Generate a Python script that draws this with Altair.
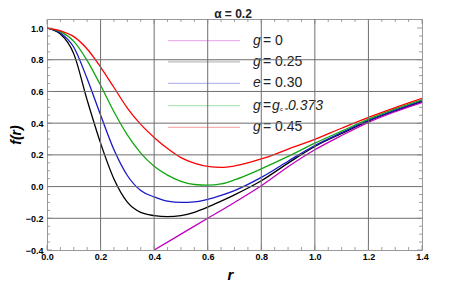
import altair as alt
import pandas as pd

# ---------------- data ----------------
r_vals = [0.0, 0.05, 0.1, 0.15, 0.2, 0.25, 0.3, 0.35, 0.4, 0.45, 0.5, 0.55, 0.6, 0.65, 0.7,
          0.8, 0.9, 1.0, 1.1, 1.2, 1.3, 1.4]
f_g045 = [1.0, 0.983, 0.946, 0.868, 0.754, 0.625, 0.495, 0.392, 0.31, 0.24, 0.183, 0.148, 0.127,
          0.121, 0.13, 0.174, 0.236, 0.298, 0.368, 0.436, 0.498, 0.556]
f_g0373 = [1.0, 0.977, 0.916, 0.795, 0.639, 0.472, 0.326, 0.211, 0.128, 0.072, 0.033, 0.013, 0.009,
           0.017, 0.042, 0.112, 0.19, 0.274, 0.35, 0.425, 0.49, 0.547]
f_e030 = [1.0, 0.969, 0.879, 0.68, 0.451, 0.232, 0.07, -0.025, -0.065, -0.092, -0.1, -0.096, -0.08,
          -0.055, -0.025, 0.058, 0.16, 0.259, 0.34, 0.417, 0.482, 0.541]
f_g025 = [1.0, 0.962, 0.837, 0.545, 0.274, 0.048, -0.098, -0.163, -0.183, -0.19, -0.183, -0.162,
          -0.13, -0.092, -0.052, 0.037, 0.148, 0.253, 0.335, 0.413, 0.478, 0.537]
r_g0 = [0.4, 0.5, 0.6, 0.7, 0.8, 0.9, 1.0, 1.1, 1.2, 1.3, 1.4]
f_g0 = [-0.4, -0.3, -0.2, -0.1, 0.005, 0.125, 0.232, 0.322, 0.405, 0.472, 0.53]

series = ["g0", "g025", "e030", "g0373", "g045"]
series_colors = ["#c000c0", "#000000", "#1818c8", "#10a810", "#ff0000"]

x_major = [0.0, 0.2, 0.4, 0.6, 0.8, 1.0, 1.2, 1.4]
y_major = [-0.4, -0.2, 0.0, 0.2, 0.4, 0.6, 0.8, 1.0]
x_grid = [0.2, 0.4, 0.6, 0.8, 1.0, 1.2]
y_grid = [-0.2, 0.0, 0.2, 0.4, 0.6, 0.8]
x_minor = [round(i * 0.05, 2) for i in range(29) if i % 4 != 0]
y_minor = [round(-0.4 + i * 0.05, 2) for i in range(29) if i % 4 != 0]

W, H = 375, 231
FONT = "Liberation Sans"

rows = []
for name, fv in zip(["g025", "e030", "g0373", "g045"], [f_g025, f_e030, f_g0373, f_g045]):
    for r, f in zip(r_vals, fv):
        rows.append({"r": r, "f": f, "s": name})
for r, f in zip(r_g0, f_g0):
    rows.append({"r": r, "f": f, "s": "g0"})
df = pd.DataFrame(rows)

xs = alt.Scale(domain=[0, 1.4], nice=False, zero=False)
ys = alt.Scale(domain=[-0.4, 1.057], nice=False, zero=False)

AX = alt.Axis(
    values=x_major, format=".1f", grid=False, ticks=False, domain=False,
    labelFont=FONT, labelFontWeight="bold", labelFontSize=9, labelColor="#000",
    labelPadding=2, labelFlush=False, labelOverlap=False,
    title="r", titleFont=FONT, titleFontStyle="italic", titleFontWeight="bold",
    titleFontSize=15, titlePadding=6, titleX=183, titleColor="#000")
AY = alt.Axis(
    values=y_major, format=".1f", grid=False, ticks=False, domain=False,
    labelFont=FONT, labelFontWeight="bold", labelFontSize=9, labelColor="#000",
    labelPadding=4, labelOverlap=False,
    title="f(r)", titleFont=FONT, titleFontStyle="italic", titleFontWeight="bold",
    titleFontSize=14, titlePadding=2, titleColor="#000")


def X(field="r"):
    return alt.X(f"{field}:Q", scale=xs, axis=AX, title="r")


def Y(field="f"):
    return alt.Y(f"{field}:Q", scale=ys, axis=AY, title="f(r)")


curves = alt.Chart(df).mark_line(strokeWidth=1.3, interpolate="monotone", clip=True).encode(
    x=X(), y=Y(),
    color=alt.Color("s:N", scale=alt.Scale(domain=series, range=series_colors), legend=None),
    order=alt.Order("r:Q"),
)

grid_col = "#6e6e6e"
vgrid = alt.Chart(pd.DataFrame({"r": x_grid})).mark_rule(color=grid_col, strokeWidth=1).encode(
    x=X())
hgrid = alt.Chart(pd.DataFrame({"f": y_grid})).mark_rule(color=grid_col, strokeWidth=1).encode(
    y=Y())

tick_col = "#888888"


def xticks(vals, length):
    d = pd.DataFrame({"r": vals})
    bottom = alt.Chart(d).mark_rule(color=tick_col, strokeWidth=0.8).encode(
        x=X(), y=alt.value(H), y2=alt.value(H - length))
    top = alt.Chart(d).mark_rule(color=tick_col, strokeWidth=0.8).encode(
        x=X(), y=alt.value(0), y2=alt.value(length))
    return [bottom, top]


def yticks(vals, length):
    d = pd.DataFrame({"f": vals})
    left = alt.Chart(d).mark_rule(color=tick_col, strokeWidth=0.8).encode(
        y=Y(), x=alt.value(0), x2=alt.value(length))
    right = alt.Chart(d).mark_rule(color=tick_col, strokeWidth=0.8).encode(
        y=Y(), x=alt.value(W), x2=alt.value(W - length))
    return [left, right]


ticks = xticks(x_major, 5) + xticks(x_minor, 3) + yticks(y_major, 5) + yticks(y_minor, 3)

# ---------------- legend and title (annotation) ----------------
one = alt.Data(values=[{"k": 0}])
leg_y = [21.7, 42.7, 64.3, 86.7, 108.3]
leg_cols = ["#e8a0e8", "#cfcfcf", "#a8a8ee", "#a6e0a6", "#f4a0a0"]
leg_w = [1, 2, 1, 1, 1]
legend_layers = []
for yy, c, w in zip(leg_y, leg_cols, leg_w):
    legend_layers.append(alt.Chart(one).mark_rule(color=c, strokeWidth=w).encode(
        x=alt.value(121), x2=alt.value(193), y=alt.value(yy)))


def txt(s, x, y, italic=False, size=14, dy=0, bold=False, align="left"):
    return alt.Chart(one).mark_text(
        text=s, align=align, baseline="middle", font=FONT, fontSize=size,
        fontStyle="italic" if italic else "normal",
        fontWeight="bold" if bold else "normal", color="#222", dy=dy
    ).encode(x=alt.value(x), y=alt.value(y))


tx = 206
legend_layers += [
    txt("g", tx, leg_y[0], True), txt("= 0", tx + 10, leg_y[0]),
    txt("g", tx, leg_y[1], True), txt("= 0.25", tx + 10, leg_y[1]),
    txt("e", tx, leg_y[2], True), txt("= 0.30", tx + 10, leg_y[2]),
    txt("g", tx, leg_y[3], True), txt("=", tx + 10, leg_y[3]), txt("g", tx + 19, leg_y[3], True),
    txt("c =", tx + 27, leg_y[3], False, 6, 3), txt("0.373", tx + 35, leg_y[3], True, 14),
    txt("g", tx, leg_y[4], True), txt("= 0.45", tx + 10, leg_y[4]),
]

title = txt("α = 0.2", W / 2 - 1.5, -5, False, 12, 0, True, "center")

chart = alt.layer(curves, *legend_layers, vgrid, hgrid, *ticks, title).properties(
    width=W, height=H,
    padding={"left": 39, "top": 11, "right": 20, "bottom": 32},
    autosize=alt.AutoSizeParams(type="none"),
).configure_view(stroke="#999999", strokeWidth=1)

chart.save("out.html", embed_options={"renderer": "svg", "actions": False})
